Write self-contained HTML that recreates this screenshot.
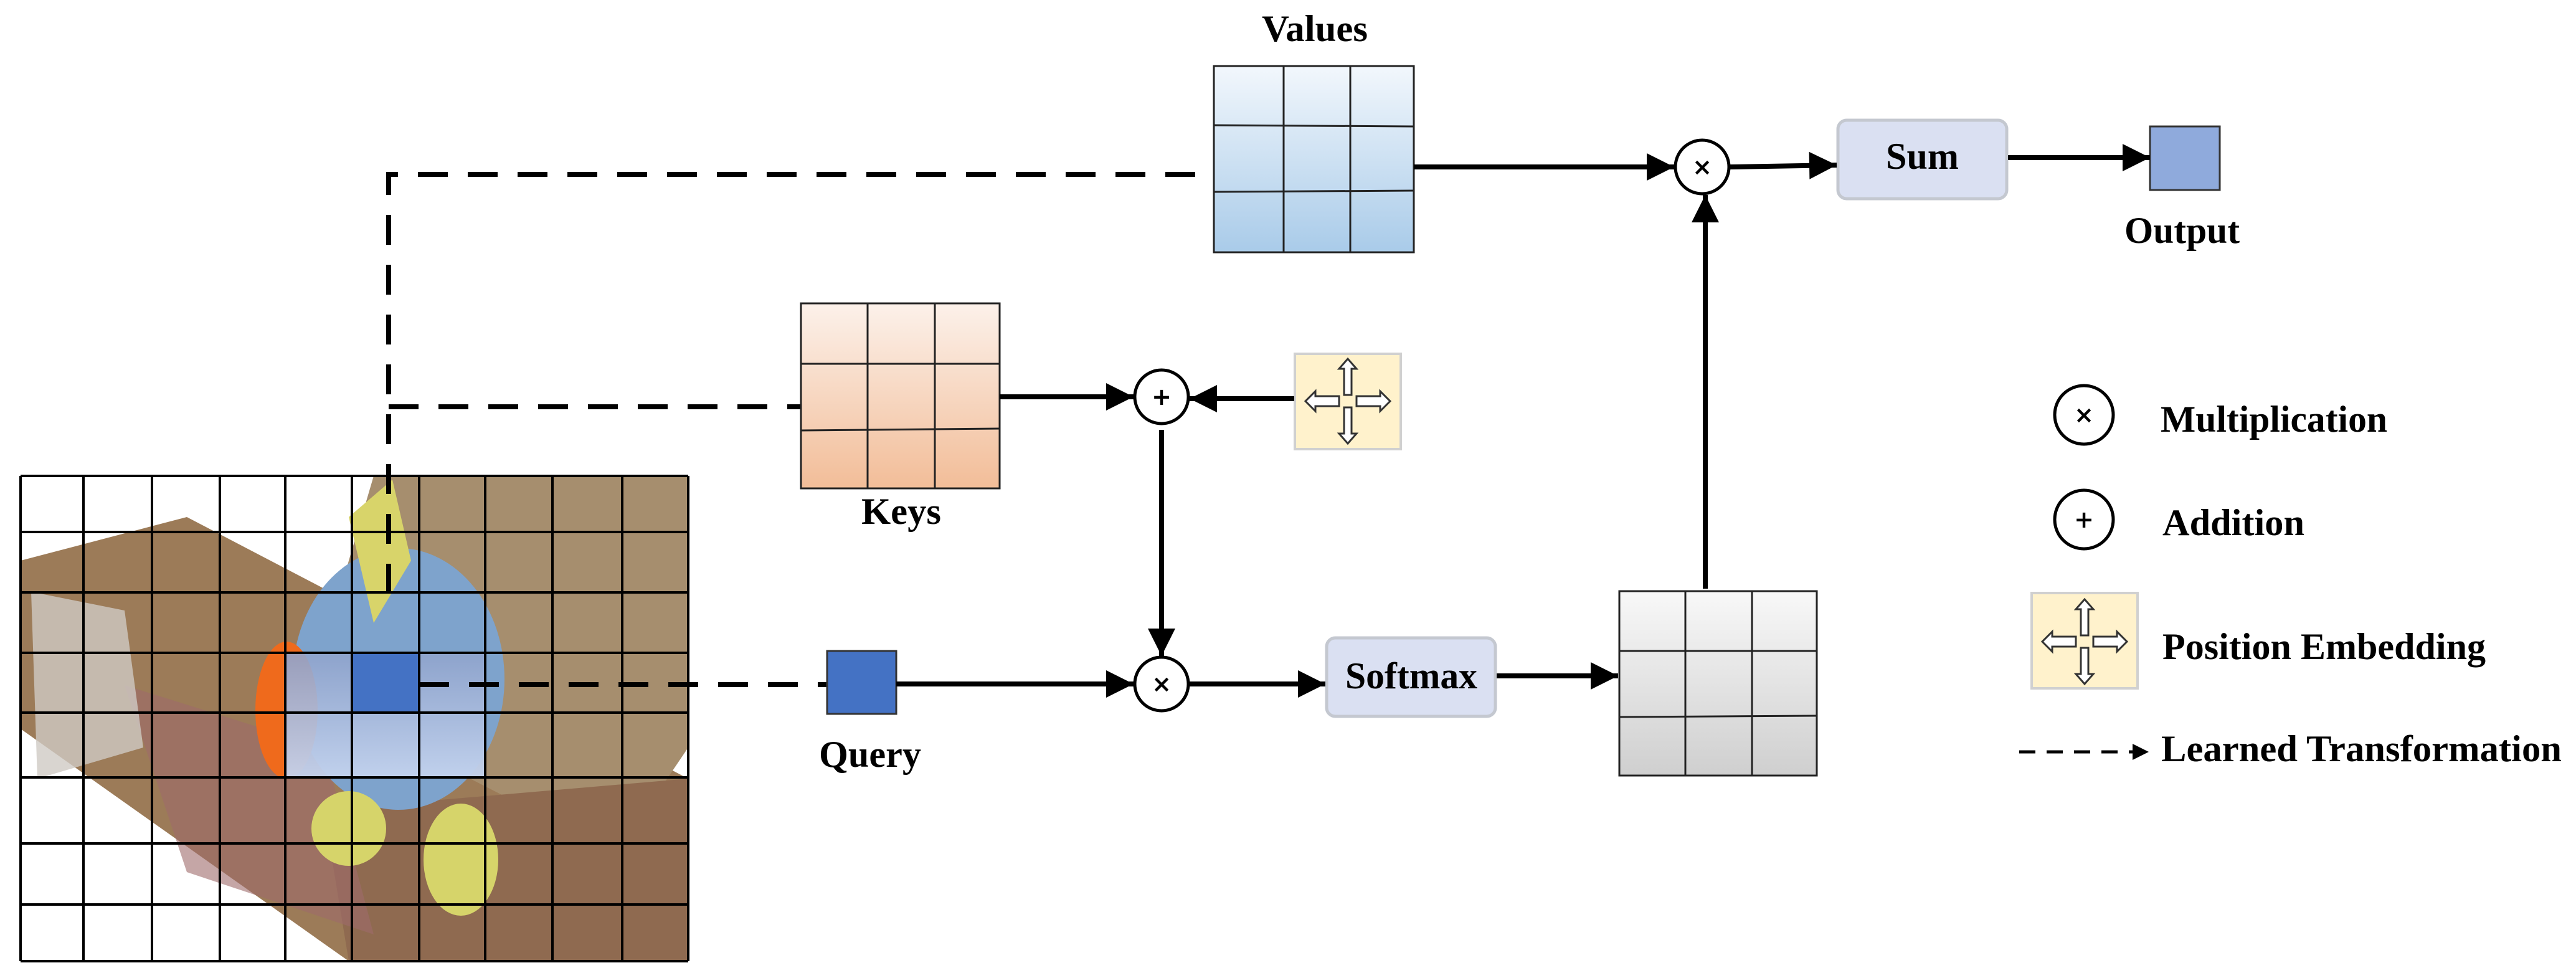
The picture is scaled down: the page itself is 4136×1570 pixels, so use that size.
<!DOCTYPE html>
<html><head><meta charset="utf-8"><style>html,body{margin:0;padding:0;background:#fff}svg{display:block}</style></head>
<body>
<svg width="4136" height="1570" viewBox="0 0 4136 1570" xmlns="http://www.w3.org/2000/svg" font-family="'Liberation Serif',serif" font-weight="bold">
<defs>
<linearGradient id="gv" x1="0" y1="0" x2="0" y2="1"><stop offset="0" stop-color="#f2f7fc"/><stop offset="1" stop-color="#a9cbe9"/></linearGradient>
<linearGradient id="gk" x1="0" y1="0" x2="0" y2="1"><stop offset="0" stop-color="#fcf1ea"/><stop offset="1" stop-color="#f2bd98"/></linearGradient>
<linearGradient id="gg" x1="0" y1="0" x2="0" y2="1"><stop offset="0" stop-color="#f8f8f8"/><stop offset="1" stop-color="#cfcfcf"/></linearGradient>
<linearGradient id="gb" x1="0" y1="0" x2="0" y2="1"><stop offset="0" stop-color="#8fa3cc" stop-opacity="0.9"/><stop offset="1" stop-color="#c4d3ee" stop-opacity="0.95"/></linearGradient>
<marker id="a" viewBox="0 0 10 10" refX="10" refY="5" markerWidth="48" markerHeight="44" markerUnits="userSpaceOnUse" orient="auto"><path d="M0,0 L10,5 L0,10 z" fill="#000"/></marker>
<marker id="as" viewBox="0 0 10 10" refX="10" refY="5" markerWidth="30" markerHeight="26" markerUnits="userSpaceOnUse" orient="auto"><path d="M0,0 L10,5 L0,10 z" fill="#000"/></marker>
<g id="pe">
<path d="M-6,-10 L-6,-52 L-14,-52 L0,-68 L14,-52 L6,-52 L6,-10 z" fill="#fff" stroke="#333" stroke-width="3"/>
<path d="M-6,10 L-6,52 L-14,52 L0,68 L14,52 L6,52 L6,10 z" fill="#fff" stroke="#333" stroke-width="3"/>
<path d="M-14,-8 L-52,-8 L-52,-16 L-68,0 L-52,16 L-52,8 L-14,8 z" fill="#fff" stroke="#333" stroke-width="3"/>
<path d="M14,-8 L52,-8 L52,-16 L68,0 L52,16 L52,8 L14,8 z" fill="#fff" stroke="#333" stroke-width="3"/>
</g>
</defs>

<polygon points="33,900 300,830 1105,1250 1105,1543 560,1543 33,1170" fill="#9c7b58"/>
<polygon points="600,764 1105,764 1105,1200 990,1370 500,1120 560,900" fill="#a68e6e"/>
<polygon points="520,1300 1105,1250 1105,1543 560,1543" fill="#8f6a50"/>
<polygon points="200,1100 520,1200 600,1500 300,1400" fill="#9e6a6a" opacity="0.6"/>
<polygon points="50,950 200,980 230,1200 60,1250" fill="#cfcac4" opacity="0.8"/>
<ellipse cx="640" cy="1090" rx="170" ry="210" fill="#7ea3cc"/>
<ellipse cx="460" cy="1140" rx="50" ry="110" fill="#ef6a1c"/>
<polygon points="560,830 630,770 660,900 600,1000" fill="#d8d46a"/>
<ellipse cx="560" cy="1330" rx="60" ry="60" fill="#d6d46a"/>
<ellipse cx="740" cy="1380" rx="60" ry="90" fill="#d6d46a"/>
<rect x="458" y="1048" width="321" height="200" fill="url(#gb)"/>
<rect x="565" y="1048" width="108" height="96" fill="#4472c4"/>
<g stroke="#000" stroke-width="4">
<line x1="33" y1="764" x2="33" y2="1543"/><line x1="134" y1="764" x2="134" y2="1543"/><line x1="244" y1="764" x2="244" y2="1543"/><line x1="353" y1="764" x2="353" y2="1543"/><line x1="458" y1="764" x2="458" y2="1543"/><line x1="565" y1="764" x2="565" y2="1543"/><line x1="673" y1="764" x2="673" y2="1543"/><line x1="779" y1="764" x2="779" y2="1543"/><line x1="887" y1="764" x2="887" y2="1543"/><line x1="999" y1="764" x2="999" y2="1543"/><line x1="1105" y1="764" x2="1105" y2="1543"/>
<line x1="33" y1="764" x2="1105" y2="764"/><line x1="33" y1="854" x2="1105" y2="854"/><line x1="33" y1="951" x2="1105" y2="951"/><line x1="33" y1="1048" x2="1105" y2="1048"/><line x1="33" y1="1144" x2="1105" y2="1144"/><line x1="33" y1="1248" x2="1105" y2="1248"/><line x1="33" y1="1354" x2="1105" y2="1354"/><line x1="33" y1="1452" x2="1105" y2="1452"/><line x1="33" y1="1543" x2="1105" y2="1543"/>
</g>

<g stroke="#000" stroke-width="8" stroke-dasharray="48,32" fill="none">
<path d="M624,953 L624,280 L1949,280"/>
<path d="M624,653 L1286,653"/>
<path d="M673,1099 L1328,1099"/>
</g>

<g stroke="#222" stroke-width="3">
<rect x="1949" y="106" width="321" height="299" fill="url(#gv)"/>
<line x1="2061" y1="106" x2="2061" y2="405"/><line x1="2168" y1="106" x2="2168" y2="405"/><line x1="1949" y1="201" x2="2270" y2="203"/><line x1="1949" y1="308" x2="2270" y2="306"/>
<rect x="1286" y="487" width="319" height="297" fill="url(#gk)"/>
<line x1="1393" y1="487" x2="1393" y2="784"/><line x1="1501" y1="487" x2="1501" y2="784"/><line x1="1286" y1="584" x2="1605" y2="584"/><line x1="1286" y1="691" x2="1605" y2="688"/>
<rect x="2600" y="949" width="317" height="296" fill="url(#gg)"/>
<line x1="2706" y1="949" x2="2706" y2="1245"/><line x1="2813" y1="949" x2="2813" y2="1245"/><line x1="2600" y1="1045" x2="2917" y2="1045"/><line x1="2600" y1="1151" x2="2917" y2="1149"/>
</g>

<rect x="2951" y="193" width="271" height="126" rx="14" fill="#dae0f2" stroke="#c4c8d0" stroke-width="5"/>
<rect x="2130" y="1024" width="271" height="126" rx="14" fill="#dae0f2" stroke="#c4c8d0" stroke-width="5"/>
<rect x="3452" y="203" width="112" height="102" fill="#8faadc" stroke="#333" stroke-width="3"/>
<rect x="1328" y="1045" width="111" height="101" fill="#4472c4" stroke="#333" stroke-width="3"/>
<rect x="2079" y="568" width="170" height="153" fill="#fff2cc" stroke="#d0d0d0" stroke-width="4"/>
<use href="#pe" x="2164" y="644"/>

<g stroke="#000" stroke-width="8" fill="none" marker-end="url(#a)">
<line x1="2270" y1="268" x2="2688" y2="268"/>
<line x1="2778" y1="268" x2="2949" y2="265"/>
<line x1="3224" y1="253" x2="3452" y2="253"/>
<line x1="2738" y1="945" x2="2738" y2="313"/>
<line x1="1605" y1="637" x2="1820" y2="637"/>
<line x1="2078" y1="640" x2="1910" y2="640"/>
<line x1="1865" y1="690" x2="1865" y2="1053"/>
<line x1="1439" y1="1098" x2="1820" y2="1098"/>
<line x1="1910" y1="1098" x2="2128" y2="1098"/>
<line x1="2403" y1="1085" x2="2598" y2="1085"/>
</g>

<g stroke="#000" stroke-width="5" fill="#fff">
<circle cx="2733" cy="268" r="43"/>
<circle cx="1865" cy="637" r="43"/>
<circle cx="1865" cy="1098" r="43"/>
<circle cx="3346" cy="666" r="47"/>
<circle cx="3346" cy="834" r="47"/>
</g>
<g font-family="'DejaVu Sans',sans-serif" font-size="38" text-anchor="middle" font-weight="bold">
<text x="2733" y="281">×</text><text x="1865" y="650">+</text><text x="1865" y="1111">×</text>
<text x="3346" y="679">×</text><text x="3346" y="847">+</text>
</g>

<rect x="3262" y="952" width="170" height="153" fill="#fff2cc" stroke="#d0d0d0" stroke-width="4"/>
<use href="#pe" x="3347" y="1030"/>
<line x1="3242" y1="1207" x2="3450" y2="1207" stroke="#000" stroke-width="5" stroke-dasharray="26,18" marker-end="url(#as)"/>

<g font-size="60" fill="#000">
<text x="2026" y="66" textLength="170" lengthAdjust="spacingAndGlyphs">Values</text>
<text x="3028" y="271" textLength="117" lengthAdjust="spacingAndGlyphs">Sum</text>
<text x="3411" y="390" textLength="185" lengthAdjust="spacingAndGlyphs">Output</text>
<text x="1383" y="841" textLength="128" lengthAdjust="spacingAndGlyphs">Keys</text>
<text x="1315" y="1231" textLength="164" lengthAdjust="spacingAndGlyphs">Query</text>
<text x="2160" y="1105" textLength="212" lengthAdjust="spacingAndGlyphs">Softmax</text>
<text x="3469" y="693" textLength="364" lengthAdjust="spacingAndGlyphs">Multiplication</text>
<text x="3472" y="859" textLength="228" lengthAdjust="spacingAndGlyphs">Addition</text>
<text x="3472" y="1058" textLength="519" lengthAdjust="spacingAndGlyphs">Position Embedding</text>
<text x="3470" y="1222" textLength="643" lengthAdjust="spacingAndGlyphs">Learned Transformation</text>
</g>
</svg>
</body></html>
